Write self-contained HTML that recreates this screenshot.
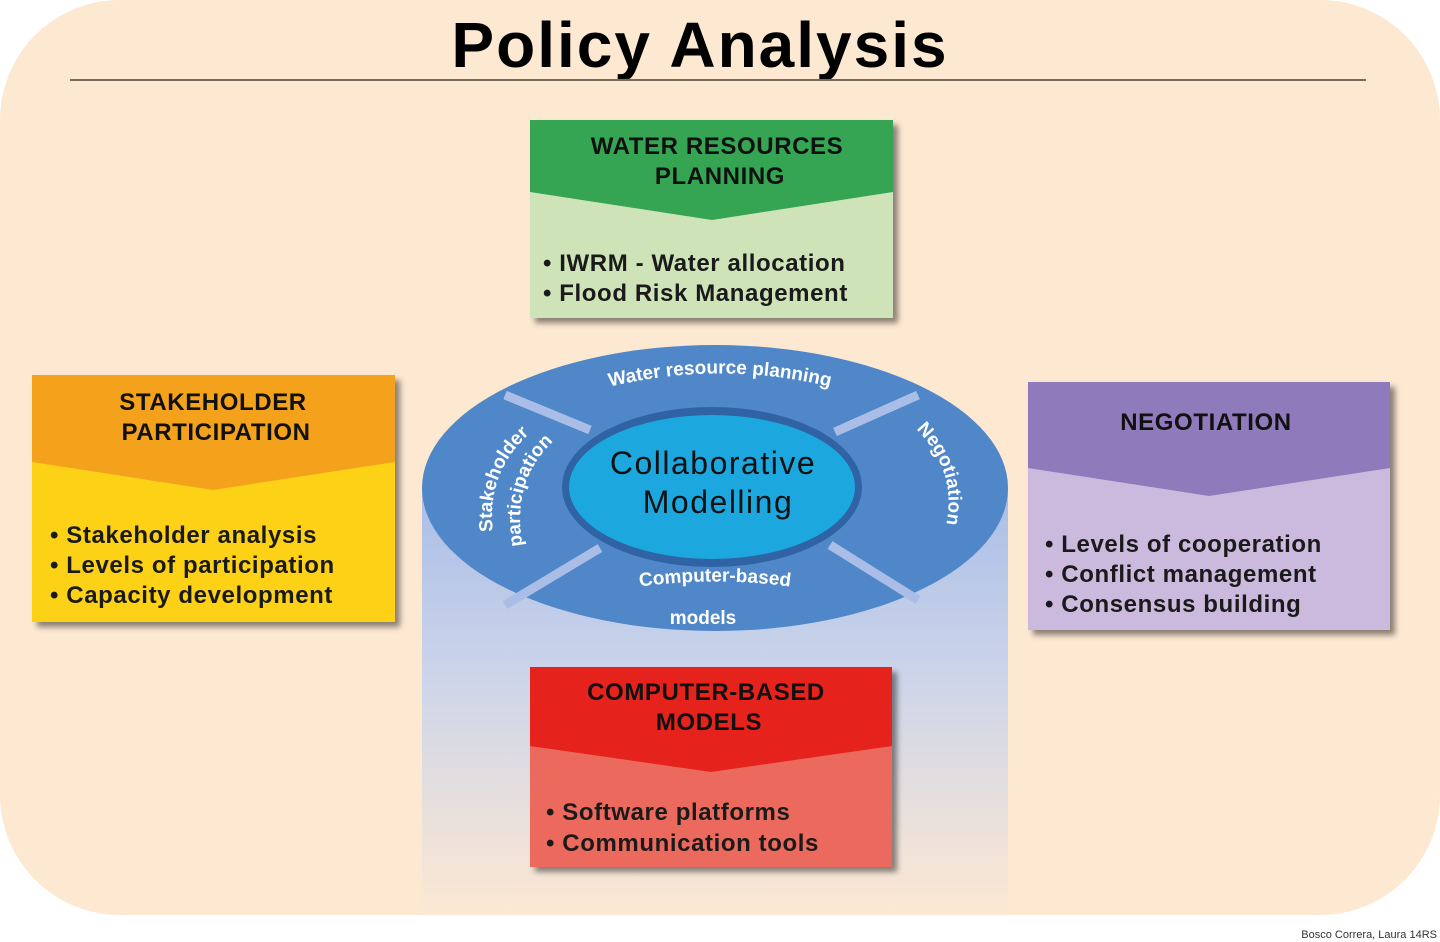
<!DOCTYPE html>
<html><head><meta charset="utf-8"><style>
html,body{margin:0;padding:0;background:#fff;}
svg{display:block;}
text{font-family:"Liberation Sans",sans-serif;}
.b{font-size:24px;font-weight:bold;letter-spacing:0.6px;fill:#1a1a1a;}
.h{font-size:24px;font-weight:bold;letter-spacing:0.6px;fill:#111;}
</style></head><body>
<svg width="1440" height="942" viewBox="0 0 1440 942" xmlns="http://www.w3.org/2000/svg">
<defs>
<filter id="sh" x="-10%" y="-10%" width="130%" height="130%"><feDropShadow dx="5" dy="5" stdDeviation="3" flood-color="#000" flood-opacity="0.45"/></filter>
<linearGradient id="cyl" x1="0" y1="0" x2="0" y2="1">
<stop offset="0" stop-color="#a9bde6"/><stop offset="0.45" stop-color="#cdd5ea"/><stop offset="1" stop-color="#fde8d2"/></linearGradient>
<path id="arcTop" d="M590,392 Q720,355 850,392"/>
<path id="arcBot" d="M630,588 Q715,575 800,588"/>
<path id="arcL" d="M495,545 Q480,470 540,425"/>
<path id="arcL2" d="M523,548 Q510,480 555,440"/>
<path id="arcR" d="M912,425 Q960,470 945,530"/>
</defs>
<rect x="0" y="0" width="1440" height="915" rx="120" ry="120" fill="#fde8d2"/>
<text x="700" y="67" text-anchor="middle" font-size="64" font-weight="bold" letter-spacing="2" fill="#000">Policy Analysis</text>
<line x1="70" y1="80" x2="1366" y2="80" stroke="#7a6a5a" stroke-width="2"/>

<rect x="422" y="485" width="586" height="430" fill="url(#cyl)"/>
<ellipse cx="715" cy="488" rx="293" ry="143" fill="#4f87c9"/>
<g stroke="#a9bde6" stroke-width="9">
<line x1="505" y1="395" x2="590" y2="430"/>
<line x1="918" y1="395" x2="835" y2="432"/>
<line x1="505" y1="605" x2="600" y2="548"/>
<line x1="918" y1="600" x2="830" y2="545"/>
</g>
<ellipse cx="712" cy="487" rx="150" ry="80" fill="#2f63a3"/>
<ellipse cx="712" cy="487" rx="143" ry="72" fill="#1ca8df"/>
<text x="713" y="474" text-anchor="middle" font-size="32" letter-spacing="1.5" fill="#111">Collaborative</text>
<text x="718" y="513" text-anchor="middle" font-size="32" letter-spacing="1.5" fill="#111">Modelling</text>
<text font-size="19" fill="#fff" font-weight="bold"><textPath href="#arcTop" startOffset="50%" text-anchor="middle">Water resource planning</textPath></text>
<text font-size="19" fill="#fff" font-weight="bold"><textPath href="#arcBot" startOffset="50%" text-anchor="middle">Computer-based</textPath></text>
<text x="703" y="624" text-anchor="middle" font-size="19" font-weight="bold" fill="#fff">models</text>
<text font-size="19" fill="#fff" font-weight="bold"><textPath href="#arcL" startOffset="50%" text-anchor="middle">Stakeholder</textPath></text>
<text font-size="19" fill="#fff" font-weight="bold"><textPath href="#arcL2" startOffset="50%" text-anchor="middle">participation</textPath></text>
<text font-size="19" fill="#fff" font-weight="bold"><textPath href="#arcR" startOffset="50%" text-anchor="middle">Negotiation</textPath></text>

<g filter="url(#sh)">
<rect x="530" y="190" width="363" height="128" fill="#cfe3b9"/>
<polygon points="530,120 893,120 893,192 712,220 530,192" fill="#36a452"/>
</g>
<text x="717" y="154" text-anchor="middle" class="h">WATER RESOURCES</text>
<text x="720" y="184" text-anchor="middle" class="h">PLANNING</text>
<text x="543" y="271" class="b">• IWRM - Water allocation</text>
<text x="543" y="301" class="b">• Flood Risk Management</text>

<g filter="url(#sh)">
<rect x="32" y="460" width="363" height="162" fill="#fdd117"/>
<polygon points="32,375 395,375 395,462 213,490 32,462" fill="#f4a21d"/>
</g>
<text x="213" y="410" text-anchor="middle" class="h">STAKEHOLDER</text>
<text x="216" y="440" text-anchor="middle" class="h">PARTICIPATION</text>
<text x="50" y="543" class="b">• Stakeholder analysis</text>
<text x="50" y="573" class="b">• Levels of participation</text>
<text x="50" y="603" class="b">• Capacity development</text>

<g filter="url(#sh)">
<rect x="1028" y="467" width="362" height="163" fill="#cbbadd"/>
<polygon points="1028,382 1390,382 1390,468 1209,496 1028,468" fill="#8f7abb"/>
</g>
<text x="1206" y="430" text-anchor="middle" class="h">NEGOTIATION</text>
<text x="1045" y="552" class="b">• Levels of cooperation</text>
<text x="1045" y="582" class="b">• Conflict management</text>
<text x="1045" y="612" class="b">• Consensus building</text>

<g filter="url(#sh)">
<rect x="530" y="744" width="362" height="123" fill="#ec6b5d"/>
<polygon points="530,667 892,667 892,746 711,772 530,746" fill="#e6241d"/>
</g>
<text x="706" y="700" text-anchor="middle" class="h">COMPUTER-BASED</text>
<text x="709" y="730" text-anchor="middle" class="h">MODELS</text>
<text x="546" y="820" class="b">• Software platforms</text>
<text x="546" y="851" class="b">• Communication tools</text>

<text x="1437" y="938" text-anchor="end" font-size="11" fill="#333">Bosco Correra, Laura 14RS</text>
</svg>
</body></html>
